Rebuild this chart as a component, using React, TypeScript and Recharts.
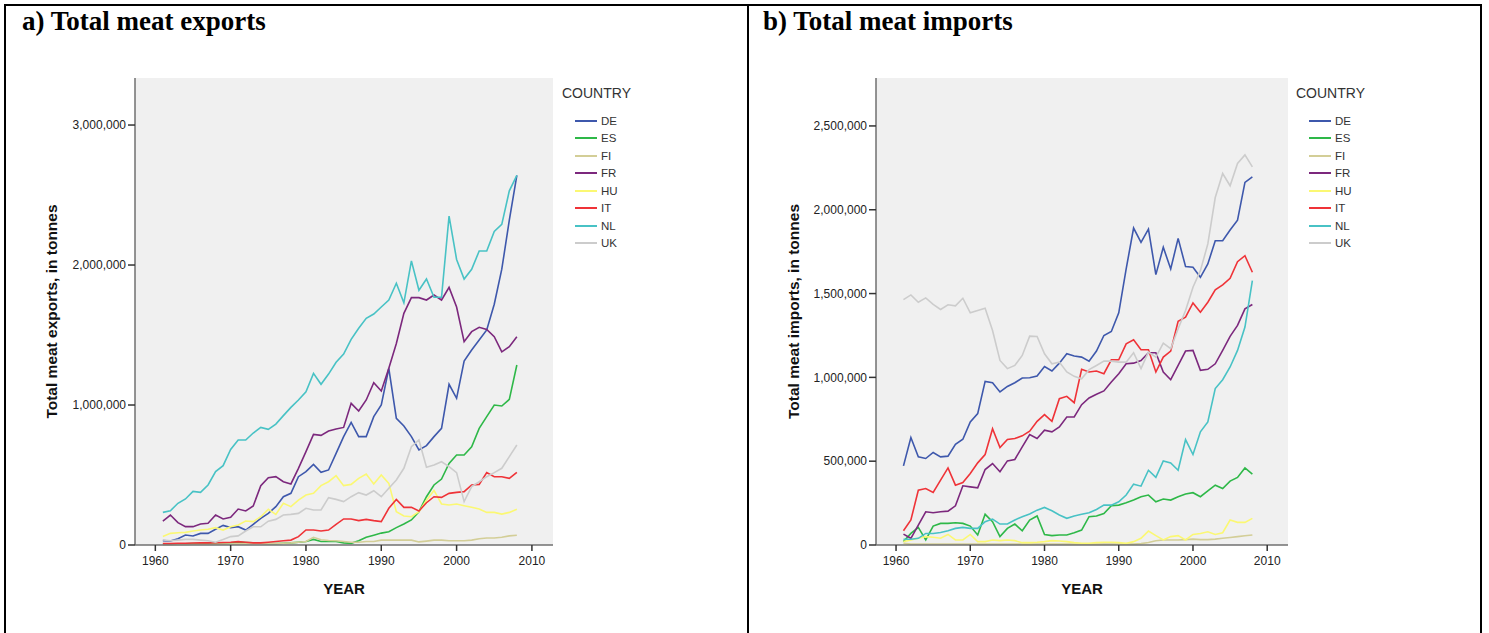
import React from "react";
import { LineChart, Line, XAxis, YAxis, CartesianGrid, Legend } from "recharts";

const YEARS = [
  1961, 1962, 1963, 1964, 1965, 1966, 1967, 1968, 1969, 1970,
  1971, 1972, 1973, 1974, 1975, 1976, 1977, 1978, 1979, 1980,
  1981, 1982, 1983, 1984, 1985, 1986, 1987, 1988, 1989, 1990,
  1991, 1992, 1993, 1994, 1995, 1996, 1997, 1998, 1999, 2000,
  2001, 2002, 2003, 2004, 2005, 2006, 2007, 2008,
];

const COUNTRIES = ["DE", "ES", "FI", "FR", "HU", "IT", "NL", "UK"];
const COLORS = ["#3e58ac", "#2eb848", "#d3ce97", "#7c287d", "#fbf873", "#ef3338", "#48c2c5", "#cccccc"];

const X_TICKS = [1960, 1970, 1980, 1990, 2000, 2010];
const EXPORT_TICKS = [0, 1000000, 2000000, 3000000];
const IMPORT_TICKS = [0, 500000, 1000000, 1500000, 2000000, 2500000];

// exports, thousand tonnes
const EXP_DE = [31, 29, 45, 71, 64, 83, 83, 112, 140, 124, 131, 107, 148, 190, 226, 274, 345, 369, 488, 524, 576, 519, 536, 655, 774, 876, 774, 774, 917, 1000, 1262, 905, 850, 774, 679, 710, 774, 833, 1148, 1048, 1314, 1393, 1464, 1536, 1720, 1970, 2320, 2640];
const EXP_ES = [5, 6, 8, 8, 10, 10, 12, 12, 15, 15, 20, 18, 15, 12, 10, 10, 12, 15, 20, 25, 40, 25, 25, 25, 15, 12, 30, 55, 70, 85, 95, 124, 150, 179, 238, 345, 429, 471, 583, 643, 643, 702, 833, 917, 1000, 993, 1040, 1286];
const EXP_FI = [3, 3, 4, 4, 5, 5, 5, 6, 6, 7, 8, 8, 9, 9, 10, 10, 12, 15, 20, 25, 55, 38, 32, 30, 25, 20, 20, 25, 25, 35, 35, 35, 35, 35, 22, 28, 35, 35, 30, 30, 30, 35, 45, 50, 50, 55, 65, 70];
const EXP_FR = [171, 214, 160, 131, 131, 150, 155, 214, 186, 198, 257, 243, 279, 424, 481, 488, 452, 436, 548, 667, 790, 783, 814, 829, 840, 1012, 957, 1036, 1160, 1100, 1262, 1440, 1655, 1767, 1767, 1750, 1786, 1750, 1840, 1700, 1452, 1524, 1555, 1540, 1488, 1380, 1417, 1488];
const EXP_HU = [60, 83, 88, 90, 100, 107, 112, 124, 107, 131, 143, 171, 167, 202, 255, 219, 298, 274, 321, 357, 369, 424, 452, 495, 424, 433, 476, 507, 436, 500, 440, 238, 207, 202, 238, 320, 390, 293, 286, 293, 281, 269, 257, 233, 233, 221, 233, 255];
const EXP_IT = [10, 10, 12, 12, 14, 15, 15, 16, 18, 20, 24, 20, 15, 15, 20, 25, 30, 35, 60, 107, 107, 100, 107, 148, 186, 186, 174, 183, 174, 167, 262, 326, 269, 269, 243, 302, 345, 340, 369, 376, 381, 429, 433, 517, 488, 488, 476, 519];
const EXP_NL = [233, 245, 298, 329, 383, 376, 429, 524, 567, 683, 750, 750, 800, 840, 826, 864, 924, 983, 1036, 1095, 1226, 1148, 1221, 1305, 1364, 1469, 1548, 1619, 1650, 1700, 1750, 1870, 1730, 2030, 1820, 1900, 1770, 1770, 2350, 2040, 1900, 1970, 2100, 2100, 2240, 2290, 2530, 2640];
const EXP_UK = [36, 30, 35, 40, 40, 35, 30, 20, 40, 60, 65, 100, 130, 130, 170, 183, 214, 219, 226, 262, 250, 250, 338, 326, 310, 345, 374, 357, 388, 345, 405, 464, 548, 702, 750, 555, 571, 595, 560, 517, 310, 417, 452, 488, 517, 548, 631, 714];

// imports, thousand tonnes
const IMP_DE = [472, 641, 526, 516, 552, 526, 530, 601, 631, 734, 784, 976, 968, 913, 946, 968, 996, 998, 1008, 1065, 1038, 1085, 1141, 1127, 1121, 1097, 1157, 1250, 1274, 1385, 1647, 1891, 1806, 1885, 1613, 1776, 1647, 1829, 1661, 1657, 1597, 1677, 1815, 1815, 1879, 1938, 2163, 2196];
const IMP_ES = [20, 69, 105, 30, 113, 129, 129, 133, 129, 113, 60, 183, 139, 50, 99, 125, 85, 149, 173, 63, 56, 60, 60, 73, 89, 169, 173, 188, 234, 238, 252, 268, 288, 298, 258, 274, 268, 288, 304, 312, 288, 323, 357, 337, 381, 403, 460, 423];
const IMP_FI = [10, 5, 5, 5, 5, 5, 5, 5, 5, 5, 5, 5, 5, 5, 5, 5, 5, 5, 5, 5, 5, 5, 5, 5, 5, 5, 5, 5, 5, 5, 5, 5, 8, 15, 25, 30, 30, 30, 32, 35, 32, 32, 35, 40, 45, 50, 55, 60];
const IMP_FR = [65, 40, 119, 198, 192, 198, 202, 234, 353, 347, 341, 450, 486, 437, 502, 510, 585, 659, 635, 685, 675, 704, 764, 764, 837, 877, 899, 919, 972, 1022, 1081, 1085, 1101, 1147, 1147, 1032, 986, 1071, 1157, 1161, 1042, 1048, 1081, 1161, 1245, 1310, 1409, 1435];
const IMP_HU = [20, 30, 40, 50, 46, 40, 63, 30, 30, 63, 20, 20, 30, 26, 30, 26, 14, 14, 16, 20, 26, 24, 20, 14, 10, 10, 14, 16, 16, 14, 10, 20, 40, 83, 56, 30, 50, 56, 30, 63, 69, 79, 63, 73, 149, 135, 135, 159];
const IMP_IT = [85, 149, 327, 337, 313, 387, 460, 357, 373, 427, 490, 540, 694, 581, 629, 635, 651, 679, 738, 778, 738, 873, 887, 849, 1048, 1032, 1038, 1022, 1105, 1105, 1200, 1224, 1165, 1165, 1032, 1121, 1157, 1335, 1359, 1444, 1389, 1448, 1522, 1552, 1591, 1690, 1726, 1627];
const IMP_NL = [34, 34, 40, 69, 69, 75, 85, 99, 105, 99, 99, 139, 155, 125, 125, 149, 169, 185, 208, 224, 204, 179, 159, 173, 183, 192, 212, 238, 238, 258, 298, 363, 351, 446, 403, 502, 490, 446, 629, 540, 675, 734, 933, 986, 1062, 1161, 1300, 1577];
const IMP_UK = [1464, 1492, 1448, 1474, 1435, 1405, 1433, 1427, 1472, 1385, 1399, 1413, 1280, 1101, 1052, 1071, 1131, 1246, 1244, 1141, 1081, 1091, 1032, 1006, 992, 1046, 1071, 1097, 1097, 1091, 1091, 1147, 1052, 1151, 1121, 1204, 1171, 1290, 1399, 1538, 1637, 1796, 2073, 2216, 2143, 2276, 2327, 2256];

const EXPORTS = [EXP_DE, EXP_ES, EXP_FI, EXP_FR, EXP_HU, EXP_IT, EXP_NL, EXP_UK];
const IMPORTS = [IMP_DE, IMP_ES, IMP_FI, IMP_FR, IMP_HU, IMP_IT, IMP_NL, IMP_UK];

function toRows(series: number[][]) {
  return YEARS.map((year, i) => {
    const row: Record<string, number> = { year };
    COUNTRIES.forEach((c, k) => {
      row[c] = series[k][i] * 1000;
    });
    return row;
  });
}

const FONT = '"Liberation Sans", Arial, sans-serif';
const BOX = "#707070";
const fmt = (v: number) => v.toLocaleString("en-US");

function CountryLegend() {
  return (
    <div style={{ fontFamily: FONT, color: "#333" }}>
      <div style={{ fontSize: 14, lineHeight: "18px", marginBottom: 10 }}>COUNTRY</div>
      {COUNTRIES.map((c, i) => (
        <div key={c} style={{ display: "flex", alignItems: "center", height: 17.5, fontSize: 11.5 }}>
          <svg width={36} height={4}>
            <line x1={13} x2={35} y1={2} y2={2} stroke={COLORS[i]} strokeWidth={2} />
          </svg>
          <span style={{ marginLeft: 3 }}>{c}</span>
        </div>
      ))}
    </div>
  );
}

interface PanelProps {
  series: number[][];
  ticks: number[];
  yMax: number;
  yLabel: string;
  yWidth: number;
  rightMargin: number;
  legendLeft: number;
}

function Panel({ series, ticks, yMax, yLabel, yWidth, rightMargin, legendLeft }: PanelProps) {
  const data = toRows(series);
  const tickStyle = { fontSize: 12, fill: "#222", fontFamily: FONT };
  return (
    <LineChart
      width={730}
      height={590}
      data={data}
      margin={{ top: 38, right: rightMargin, bottom: 47, left: 0 }}
    >
      <CartesianGrid fill="#f0f0f0" horizontal={false} vertical={false} />
      <XAxis
        dataKey="year"
        type="number"
        domain={[1957.3, 2012.8]}
        ticks={X_TICKS}
        height={38}
        tickSize={6}
        tickMargin={5}
        tick={tickStyle}
        axisLine={{ stroke: BOX, strokeWidth: 1.5 }}
        tickLine={{ stroke: "#333", strokeWidth: 1.5 }}
        label={{
          value: "YEAR",
          position: "bottom",
          offset: 0,
          style: { fontSize: 15, fontWeight: "bold", fill: "#111", fontFamily: FONT },
        }}
      />
      <XAxis
        xAxisId="top"
        orientation="top"
        type="number"
        domain={[1957.3, 2012.8]}
        height={0}
        tick={false}
        tickLine={false}
        axisLine={{ stroke: BOX, strokeWidth: 1.5 }}
      />
      <YAxis
        type="number"
        domain={[0, yMax]}
        ticks={ticks}
        width={yWidth}
        tickSize={7}
        tick={tickStyle}
        tickFormatter={fmt}
        axisLine={{ stroke: BOX, strokeWidth: 1.5 }}
        tickLine={{ stroke: "#333", strokeWidth: 1.5 }}
        label={{
          value: yLabel,
          angle: -90,
          position: "insideLeft",
          offset: 41,
          style: { textAnchor: "middle", fontSize: 15.5, fontWeight: "bold", fill: "#111", fontFamily: FONT },
        }}
      />
      <YAxis
        yAxisId="right"
        orientation="right"
        type="number"
        domain={[0, yMax]}
        width={0}
        tick={false}
        tickLine={false}
        axisLine={{ stroke: BOX, strokeWidth: 1.5 }}
      />
      <Legend
        layout="vertical"
        align="center"
        verticalAlign="middle"
        wrapperStyle={{ left: legendLeft, top: 44, width: 120 }}
        content={() => <CountryLegend />}
      />
      {COUNTRIES.map((c, i) => (
        <Line
          key={c}
          dataKey={c}
          type="linear"
          stroke={COLORS[i]}
          strokeWidth={1.6}
          dot={false}
          isAnimationActive={false}
        />
      ))}
    </LineChart>
  );
}

const titleStyle: React.CSSProperties = {
  position: "absolute",
  top: 8,
  fontFamily: '"Liberation Serif", "Times New Roman", serif',
  fontWeight: "bold",
  fontSize: 27,
  lineHeight: "27px",
  color: "#000",
};

export default function App() {
  return (
    <div style={{ position: "relative", width: 1489, height: 633, background: "#fff", overflow: "hidden" }}>
      <style>{`body{margin:0}`}</style>
      <div style={{ position: "absolute", left: 4, top: 4, width: 1478, height: 2, background: "#000" }} />
      <div style={{ position: "absolute", left: 4, top: 4, width: 2, height: 640, background: "#000" }} />
      <div style={{ position: "absolute", left: 747, top: 4, width: 2, height: 640, background: "#000" }} />
      <div style={{ position: "absolute", left: 1480, top: 4, width: 2, height: 640, background: "#000" }} />

      <div style={{ ...titleStyle, left: 22 }}>a) Total meat exports</div>
      <div style={{ ...titleStyle, left: 763 }}>b) Total meat imports</div>

      <div style={{ position: "absolute", left: 10, top: 40 }}>
        <Panel
          series={EXPORTS}
          ticks={EXPORT_TICKS}
          yMax={3336000}
          yLabel="Total meat exports, in tonnes"
          yWidth={125}
          rightMargin={187}
          legendLeft={552}
        />
      </div>
      <div style={{ position: "absolute", left: 752, top: 40 }}>
        <Panel
          series={IMPORTS}
          ticks={IMPORT_TICKS}
          yMax={2786000}
          yLabel="Total meat imports, in tonnes"
          yWidth={124}
          rightMargin={194}
          legendLeft={544}
        />
      </div>
    </div>
  );
}
